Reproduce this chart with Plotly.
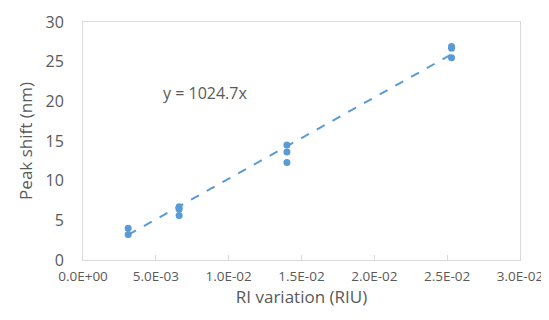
import plotly.graph_objects as go

ri_variation = [0.0031, 0.0031, 0.0066, 0.0066, 0.0066, 0.0140, 0.0140, 0.0140, 0.0253, 0.0253, 0.0253]
peak_shift = [4.0, 3.2, 6.7, 6.4, 5.6, 14.5, 13.6, 12.3, 26.9, 26.7, 25.5]
slope = 1024.7
fit_x = [0.0031, 0.0253]
fit_y = [slope * v for v in fit_x]
x_tickvals = [0, 0.005, 0.01, 0.015, 0.02, 0.025, 0.03]
x_ticktext = ["0.0E+00", "5.0E-03", "1.0E-02", "1.5E-02", "2.0E-02", "2.5E-02", "3.0E-02"]
y_tickvals = [0, 5, 10, 15, 20, 25, 30]

blue = "#5B9BD5"
gray = "#595959"
fig = go.Figure()
fig.add_trace(go.Scatter(x=fit_x, y=fit_y, mode="lines",
                         line=dict(color=blue, width=2, dash="dash"), hoverinfo="skip"))
fig.add_trace(go.Scatter(x=ri_variation, y=peak_shift, mode="markers",
                         marker=dict(color=blue, size=7)))
fig.add_annotation(x=0.0084, y=21.0, text="y = 1024.7x", showarrow=False,
                   font=dict(size=16, color=gray))
fig.update_layout(
    width=549, height=320, showlegend=False,
    margin=dict(l=75, r=37, t=14, b=68),
    paper_bgcolor="white", plot_bgcolor="white",
    font=dict(family="Open Sans", size=14, color=gray),
    xaxis=dict(range=[0, 0.03], tickvals=x_tickvals, ticktext=x_ticktext, automargin=False,
               showgrid=False, zeroline=False, showline=True, linecolor="#D9D9D9",
               linewidth=1, mirror=True, ticks="inside", ticklen=5, tickcolor="#D9D9D9",
               ticklabelstandoff=4,
               title=dict(text="RI variation (RIU)", standoff=6, font=dict(size=17)),
               tickfont=dict(size=13.5)),
    yaxis=dict(range=[0, 30], tickvals=y_tickvals, showgrid=False, zeroline=False, automargin=False,
               showline=True, linecolor="#D9D9D9", linewidth=1, mirror=True,
               ticklabelstandoff=15,
               title=dict(text="Peak shift (nm)", standoff=8, font=dict(size=17)),
               tickfont=dict(size=16)),
)
fig.write_html("out.html")
